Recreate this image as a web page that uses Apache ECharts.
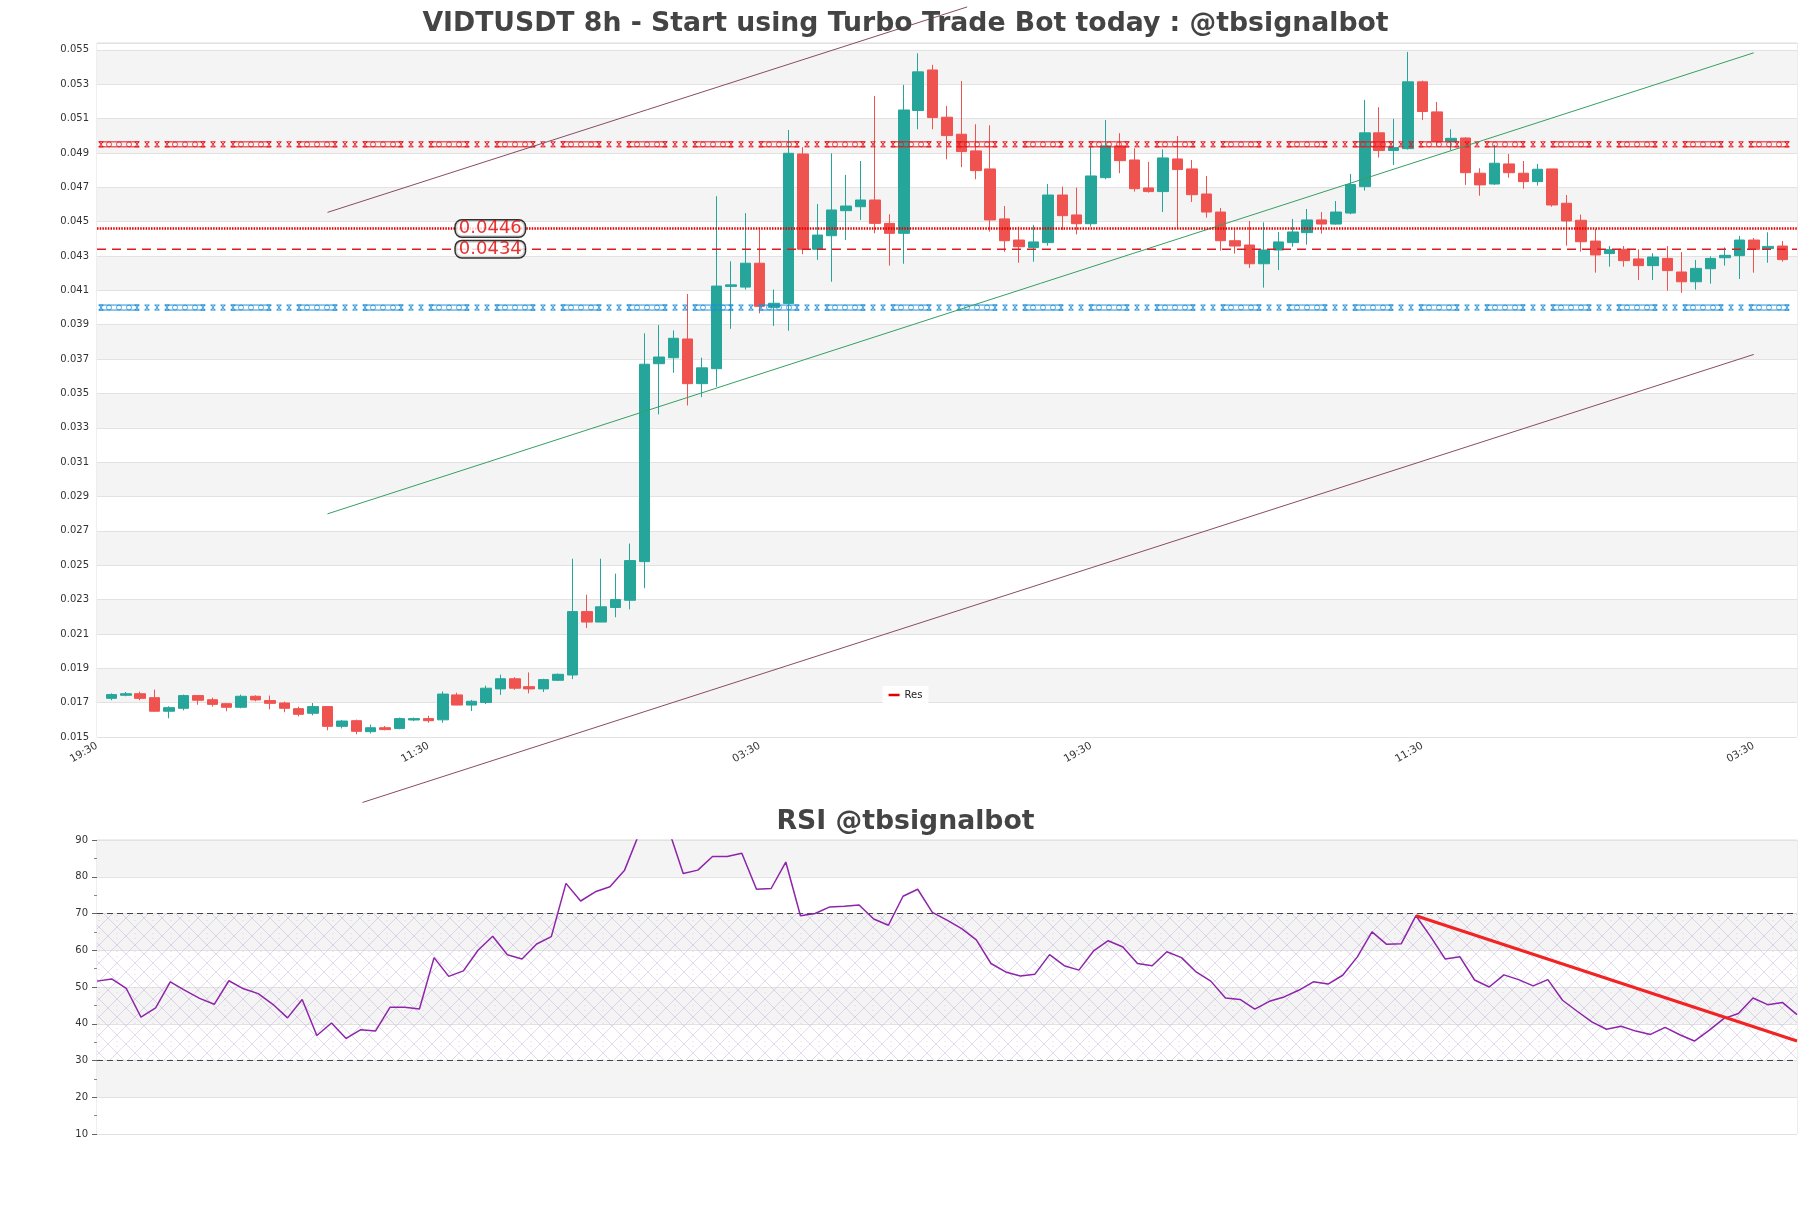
<!DOCTYPE html>
<html><head><meta charset="utf-8">
<script src="https://cdn.jsdelivr.net/npm/echarts@6/dist/echarts.min.js"></script>
<style>html,body{margin:0;padding:0;background:#fff}#c{width:1811px;height:1208px}</style>
</head><body><div id="c"></div>
<script>
// ---------- data ----------
const timeCycle = ['19:30', '03:30', '11:30'];
const opens = [0.01725,0.01743,0.01752,0.01729,0.01650,0.01667,0.01741,0.01717,0.01694,0.01673,
0.01737,0.01712,0.01698,0.01665,0.01638,0.01677,0.01562,0.01595,0.01531,0.01554,
0.01549,0.01599,0.01607,0.01600,0.01745,0.01686,0.01701,0.01780,0.01839,0.01793,
0.01780,0.01830,0.01861,0.02230,0.02169,0.02254,0.02296,0.02521,0.03673,0.03708,
0.03817,0.03557,0.03644,0.04123,0.04119,0.04258,0.04001,0.04024,0.04894,0.04339,
0.04418,0.04564,0.04587,0.04626,0.04490,0.04432,0.05147,0.05383,0.05108,0.05009,
0.04912,0.04807,0.04516,0.04393,0.04349,0.04378,0.04655,0.04539,0.04488,0.04756,
0.04941,0.04859,0.04696,0.04675,0.04865,0.04807,0.04661,0.04556,0.04389,0.04364,
0.04255,0.04335,0.04378,0.04436,0.04510,0.04486,0.04550,0.04704,0.05017,0.04914,
0.04925,0.05314,0.05139,0.04966,0.04987,0.04782,0.04719,0.04836,0.04782,0.04733,
0.04807,0.04607,0.04508,0.04387,0.04314,0.04339,0.04283,0.04244,0.04286,0.04207,
0.04150,0.04226,0.04290,0.04302,0.04393,0.04343,0.04358];
const closes = [0.01747,0.01752,0.01725,0.01650,0.01671,0.01741,0.01714,0.01690,0.01673,0.01737,
0.01716,0.01696,0.01667,0.01632,0.01677,0.01562,0.01593,0.01533,0.01554,0.01543,
0.01607,0.01607,0.01595,0.01750,0.01686,0.01708,0.01784,0.01839,0.01784,0.01780,
0.01834,0.01865,0.02230,0.02169,0.02258,0.02300,0.02527,0.03670,0.03712,0.03821,
0.03557,0.03649,0.04125,0.04132,0.04258,0.04007,0.04025,0.04898,0.04339,0.04422,
0.04568,0.04591,0.04626,0.04490,0.04432,0.05150,0.05372,0.05106,0.05001,0.04908,
0.04797,0.04510,0.04389,0.04354,0.04382,0.04655,0.04535,0.04488,0.04766,0.04941,
0.04855,0.04692,0.04675,0.04871,0.04803,0.04657,0.04556,0.04389,0.04358,0.04255,
0.04335,0.04382,0.04440,0.04510,0.04486,0.04556,0.04716,0.05017,0.04914,0.04931,
0.05314,0.05141,0.04966,0.04985,0.04785,0.04714,0.04840,0.04785,0.04733,0.04805,
0.04597,0.04504,0.04383,0.04306,0.04337,0.04273,0.04244,0.04294,0.04215,0.04150,
0.04228,0.04286,0.04304,0.04393,0.04339,0.04356,0.04279];
const lows = [0.01714,0.01737,0.01714,0.01648,0.01609,0.01655,0.01688,0.01677,0.01650,0.01667,
0.01708,0.01661,0.01644,0.01620,0.01626,0.01539,0.01550,0.01516,0.01521,0.01539,
0.01545,0.01593,0.01583,0.01583,0.01685,0.01651,0.01692,0.01745,0.01775,0.01754,
0.01762,0.01826,0.01837,0.02134,0.02169,0.02197,0.02243,0.02366,0.03378,0.03620,
0.03430,0.03478,0.03539,0.03876,0.04105,0.03966,0.03893,0.03865,0.04310,0.04277,
0.04150,0.04393,0.04510,0.04432,0.04244,0.04255,0.05038,0.05038,0.04863,0.04817,
0.04747,0.04442,0.04325,0.04261,0.04267,0.04360,0.04451,0.04426,0.04471,0.04747,
0.04782,0.04675,0.04669,0.04556,0.04457,0.04615,0.04523,0.04331,0.04314,0.04230,
0.04116,0.04218,0.04354,0.04366,0.04430,0.04482,0.04543,0.04681,0.04873,0.04830,
0.04920,0.05092,0.04941,0.04917,0.04714,0.04651,0.04714,0.04756,0.04692,0.04710,
0.04587,0.04360,0.04325,0.04203,0.04238,0.04238,0.04160,0.04160,0.04098,0.04086,
0.04104,0.04139,0.04244,0.04166,0.04203,0.04261,0.04267];
const highs = [0.01754,0.01762,0.01764,0.01776,0.01679,0.01747,0.01743,0.01729,0.01696,0.01747,
0.01743,0.01741,0.01706,0.01677,0.01698,0.01679,0.01599,0.01601,0.01572,0.01564,
0.01613,0.01613,0.01624,0.01765,0.01758,0.01716,0.01799,0.01863,0.01848,0.01876,
0.01839,0.01870,0.02538,0.02328,0.02538,0.02451,0.02626,0.03850,0.03898,0.03867,
0.04079,0.03708,0.04648,0.04269,0.04550,0.04455,0.04105,0.05034,0.04933,0.04603,
0.04898,0.04772,0.04853,0.05232,0.04543,0.05296,0.05480,0.05413,0.05174,0.05319,
0.05067,0.05061,0.04591,0.04471,0.04481,0.04719,0.04704,0.04698,0.04937,0.05092,
0.05015,0.04927,0.04848,0.04921,0.04999,0.04859,0.04766,0.04580,0.04459,0.04504,
0.04496,0.04440,0.04516,0.04574,0.04556,0.04620,0.04778,0.05209,0.05166,0.05098,
0.05488,0.05321,0.05197,0.05038,0.04991,0.04811,0.04947,0.04894,0.04853,0.04836,
0.04807,0.04655,0.04541,0.04457,0.04358,0.04358,0.04339,0.04316,0.04358,0.04323,
0.04277,0.04298,0.04350,0.04417,0.04405,0.04438,0.04387];
const rsiValues = [51.6,52.2,49.6,41.8,44.3,51.4,49.1,46.9,45.3,51.7,
49.5,48.2,45.3,41.6,46.6,36.8,40.2,36.0,38.4,38.0,
44.5,44.5,44.0,58.0,52.9,54.4,60.0,63.8,58.8,57.6,
61.7,63.7,78.2,73.4,75.9,77.3,81.8,91.8,93.5,92.9,
80.9,81.8,85.5,85.5,86.4,76.6,76.8,84.0,69.4,70.0,
71.8,72.0,72.3,68.5,66.8,74.7,76.6,70.3,68.2,65.9,
62.8,56.4,54.1,53.0,53.5,58.8,55.8,54.6,59.8,62.6,
60.9,56.4,55.8,59.6,58.0,54.1,51.6,47.0,46.6,44.0,
46.1,47.3,49.1,51.4,50.8,53.2,58.2,65.0,61.6,61.8,
69.4,63.7,57.6,58.2,51.9,50.0,53.3,52.0,50.3,52.0,
46.4,43.4,40.5,38.5,39.3,38.0,37.1,39.0,37.0,35.3,
38.2,41.4,42.8,47.0,45.2,45.8,42.5];
const resLevels = [0.0446, 0.0434];
const resLabels = ['0.0446', '0.0434'];
const resLabelX = 27.3;
const zoneLevels = [0.0495, 0.0400];
const channelUpper = [[16, 0.04554], [60.4, 0.0575]];
const channelMiddle = [[16, 0.02799], [115, 0.05483]];
const channelLower = [[18.43, 0.01119], [115, 0.03727]];
const rsiTrend = [[90, 69.4], [116, 35.3]];
const rsiBands = [30, 70];

// ---------- build ----------
const FONT = 'DejaVu Sans';
const nCat = opens.length + 2;
const categories = [];
for (let i = 0; i < nCat; i++) categories.push(timeCycle[i % 3]);
const candleData = opens.map((o, i) => [i + 1, o, closes[i], lows[i], highs[i]]);
const rsiData = rsiValues.map((v, k) => [k, v]);
const zoneColors = ['#e8141b', '#1e8fd8'];
const rsiLast = rsiValues.length - 1;

const pc = document.createElement('canvas');
pc.width = 18; pc.height = 18;
const g = pc.getContext('2d');
g.strokeStyle = 'rgba(170,140,200,0.40)';
g.lineWidth = 0.8;
g.beginPath(); g.moveTo(0, 0); g.lineTo(18, 18); g.moveTo(18, 0); g.lineTo(0, 18); g.stroke();
g.fillStyle = 'rgba(170,140,200,0.35)';
g.fillRect(8.5, 2, 1, 1); g.fillRect(8.5, 15, 1, 1);

function crossAt(ch, cx, y, st) {
  ch.push({ type: 'line', shape: { x1: cx - 2, y1: y - 2.5, x2: cx + 2, y2: y + 2.5 }, style: st });
  ch.push({ type: 'line', shape: { x1: cx + 2, y1: y - 2.5, x2: cx - 2, y2: y + 2.5 }, style: st });
  ch.push({ type: 'line', shape: { x1: cx - 2.5, y1: y - 2.5, x2: cx + 2.5, y2: y - 2.5 }, style: st });
  ch.push({ type: 'line', shape: { x1: cx - 2.5, y1: y + 2.5, x2: cx + 2.5, y2: y + 2.5 }, style: st });
}
function zoneRender(params, api) {
  const cs = params.coordSys;
  const y = api.coord([0, api.value(1)])[1];
  const color = zoneColors[params.dataIndex];
  const ch = [];
  const st = { stroke: color, lineWidth: 1, fill: null };
  const period = 66;
  const xEnd = cs.x + cs.width;
  for (let x0 = cs.x + 2; x0 < xEnd; x0 += period) {
    const segEnd = Math.min(x0 + 40, xEnd);
    ch.push({ type: 'line', shape: { x1: x0, y1: y - 2.5, x2: segEnd, y2: y - 2.5 }, style: st });
    ch.push({ type: 'line', shape: { x1: x0, y1: y + 2.5, x2: segEnd, y2: y + 2.5 }, style: st });
    for (let cx = x0 + 10; cx < segEnd - 6; cx += 10) {
      ch.push({ type: 'circle', shape: { cx: cx, cy: y, r: 2.5 }, style: { stroke: color, lineWidth: 0.8, fill: null } });
    }
    crossAt(ch, x0 + 2, y, st);
    if (x0 + 38 < xEnd) crossAt(ch, x0 + 38, y, st);
    [x0 + 48, x0 + 58].forEach(cx => { if (cx + 2 < xEnd) crossAt(ch, cx, y, st); });
  }
  return { type: 'group', children: ch };
}

const chart = echarts.init(document.getElementById('c'), null, { renderer: 'canvas' });
chart.setOption({
  animation: false,
  backgroundColor: '#ffffff',
  textStyle: { fontFamily: FONT },
  title: [
    { text: 'VIDTUSDT 8h - Start using Turbo Trade Bot today : @tbsignalbot', left: 'center', top: 6,
      textStyle: { fontSize: 26.7, fontWeight: 'bold', color: '#444', fontFamily: FONT } },
    { text: 'RSI @tbsignalbot', left: 'center', top: 804,
      textStyle: { fontSize: 26.7, fontWeight: 'bold', color: '#444', fontFamily: FONT } }
  ],
  legend: {
    data: ['Res'], left: 'center', top: 686, backgroundColor: '#fff', padding: [4, 6],
    icon: 'rect', itemWidth: 11, itemHeight: 2.5,
    textStyle: { fontSize: 10, color: '#222', fontFamily: FONT }
  },
  grid: [
    { left: 97, top: 43, width: 1700, height: 694, show: true, borderColor: '#dcdcdc', borderWidth: 1, backgroundColor: 'transparent' },
    { left: 97, top: 840, width: 1700, height: 294, show: true, borderColor: '#dcdcdc', borderWidth: 1, backgroundColor: 'transparent' }
  ],
  xAxis: [
    { type: 'category', gridIndex: 0, data: categories, boundaryGap: false,
      axisLine: { show: false }, axisTick: { show: false }, splitLine: { show: false },
      axisLabel: { interval: 22, rotate: 30, fontSize: 10.5, color: '#333', fontFamily: FONT, margin: 8 } },
    { type: 'value', gridIndex: 0, min: 0, max: nCat - 1, show: false },
    { type: 'value', gridIndex: 1, min: 0, max: rsiLast, show: false }
  ],
  yAxis: [
    { type: 'value', gridIndex: 0, min: 0.015, max: 0.0554, interval: 0.002,
      axisLine: { show: false }, axisTick: { show: false },
      axisLabel: { fontSize: 10, color: '#333', fontFamily: FONT, showMaxLabel: false,
        formatter: v => v.toFixed(3) },
      splitLine: { lineStyle: { color: '#e2e2e2', width: 1 } },
      splitArea: { show: true, areaStyle: { color: ['#ffffff', '#f4f4f4'] } } },
    { type: 'value', gridIndex: 1, min: 10, max: 90, interval: 10,
      axisLine: { show: false },
      axisTick: { show: true, length: 5, lineStyle: { color: '#666' } },
      minorTick: { show: true, splitNumber: 2, length: 3, lineStyle: { color: '#888' } },
      axisLabel: { fontSize: 10, color: '#333', fontFamily: FONT, margin: 9 },
      splitLine: { lineStyle: { color: '#e2e2e2', width: 1 } },
      splitArea: { show: true, areaStyle: { color: ['#ffffff', '#f4f4f4'] } } }
  ],
  series: [
    { name: 'candles', type: 'candlestick', xAxisIndex: 0, yAxisIndex: 0,
      data: candleData, encode: { x: 0, y: [1, 2, 3, 4] }, barWidth: 11,
      itemStyle: { color: '#26a69a', color0: '#ef5350', borderColor: '#26a69a', borderColor0: '#ef5350', borderWidth: 1 },
      z: 3 },
    { name: 'zones', type: 'custom', xAxisIndex: 1, yAxisIndex: 0,
      data: zoneLevels.map(v => [0, v]), encode: { x: 0, y: 1 },
      renderItem: zoneRender, silent: true, z: 4 },
    { name: 'Res', type: 'line', xAxisIndex: 1, yAxisIndex: 0,
      data: [[0, resLevels[0]], [nCat - 1, resLevels[0]]],
      showSymbol: false, silent: true, color: '#e00000',
      lineStyle: { color: '#e00000', width: 2.6, type: [1.5, 1.2] }, z: 6 },
    { name: 'Res2', type: 'line', xAxisIndex: 1, yAxisIndex: 0,
      data: [[0, resLevels[1]], [nCat - 1, resLevels[1]]],
      showSymbol: false, silent: true, color: '#dd1c22',
      lineStyle: { color: '#dd1c22', width: 1.5, type: [9, 6] }, z: 6 },
    { name: 'chUpper', type: 'line', xAxisIndex: 1, yAxisIndex: 0, data: channelUpper, clip: false,
      showSymbol: false, silent: true, lineStyle: { color: '#8b4a68', width: 1 }, z: 5 },
    { name: 'chMiddle', type: 'line', xAxisIndex: 1, yAxisIndex: 0, data: channelMiddle, clip: false,
      showSymbol: false, silent: true, lineStyle: { color: '#35a062', width: 1 }, z: 5 },
    { name: 'chLower', type: 'line', xAxisIndex: 1, yAxisIndex: 0, data: channelLower, clip: false,
      showSymbol: false, silent: true, lineStyle: { color: '#8b4a68', width: 1 }, z: 5 },
    { name: 'resLabels', type: 'scatter', xAxisIndex: 1, yAxisIndex: 0,
      data: resLevels.map(v => [resLabelX, v]), symbolSize: 1, itemStyle: { color: 'rgba(0,0,0,0)' },
      label: { show: true, position: 'inside', formatter: p => resLabels[p.dataIndex],
        fontSize: 18, color: '#e00000', fontFamily: FONT, backgroundColor: '#fff',
        borderColor: '#000', borderWidth: 1.5, borderRadius: 6, padding: [0, 3, -1, 3], lineHeight: 17 },
      silent: true, z: 10 },
    { name: 'RSI', type: 'line', xAxisIndex: 2, yAxisIndex: 1, data: rsiData,
      showSymbol: false, lineStyle: { color: '#8e24aa', width: 1.5 }, z: 4,
      markArea: { silent: true, itemStyle: { color: { image: pc, repeat: 'repeat' } },
        data: [[{ yAxis: rsiBands[0] }, { yAxis: rsiBands[1] }]] } },
    { name: 'rsi70', type: 'line', xAxisIndex: 2, yAxisIndex: 1,
      data: [[0, rsiBands[1]], [rsiLast, rsiBands[1]]], showSymbol: false, silent: true,
      lineStyle: { color: '#444', width: 1.2, type: [6, 4] }, z: 3 },
    { name: 'rsi30', type: 'line', xAxisIndex: 2, yAxisIndex: 1,
      data: [[0, rsiBands[0]], [rsiLast, rsiBands[0]]], showSymbol: false, silent: true,
      lineStyle: { color: '#444', width: 1.2, type: [6, 4] }, z: 3 },
    { name: 'rsiTrend', type: 'line', xAxisIndex: 2, yAxisIndex: 1, data: rsiTrend,
      showSymbol: false, silent: true, lineStyle: { color: '#f02424', width: 3 }, z: 5 }
  ]
});
</script></body></html>
